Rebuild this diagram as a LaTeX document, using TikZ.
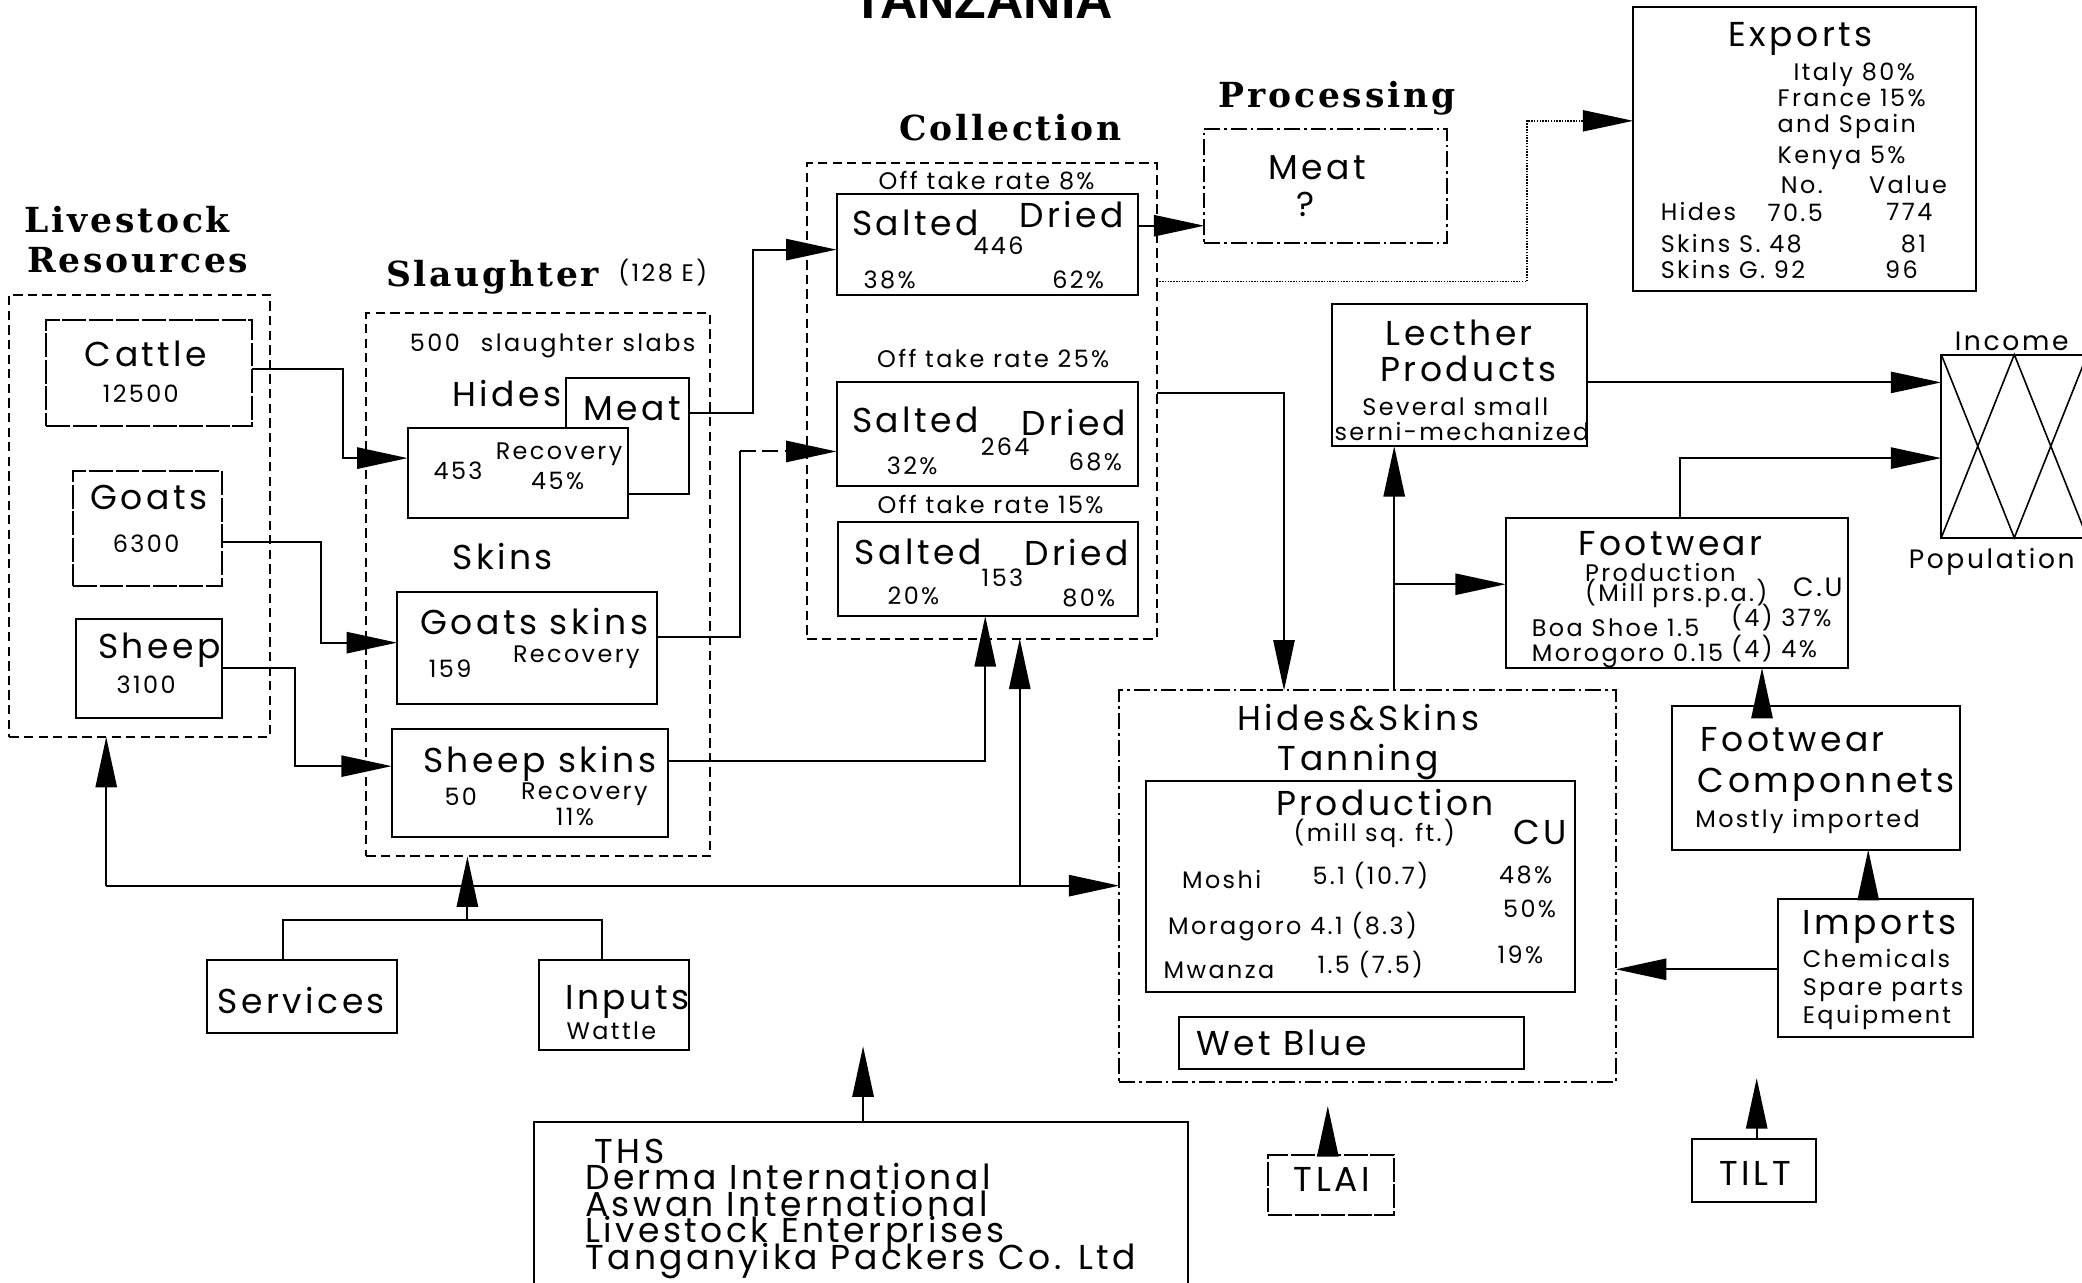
\documentclass[tikz,border=0pt]{standalone}
\usepackage{fontspec}
\usetikzlibrary{arrows.meta}
\newfontfamily\plotfont{Poppins}[LetterSpace=10]
\newfontfamily\titlefont{DejaVu Serif}[LetterSpace=8]
\newfontfamily\headfont{Liberation Sans}

% box given by its top-left and bottom-right corners
\newcommand\mkbox[6]{\node[#6, minimum width={(#4-#2)*1pt}, minimum height={(#5-#3)*1pt}, anchor=north west] (#1) at (#2,#3) {};}

\begin{document}
\begin{tikzpicture}[x=1pt,y=-1pt,line width=1.5pt,
  bx/.style={draw, inner sep=0pt, outer sep=0pt, fill=white},
  dbx/.style={bx, dash pattern=on 7pt off 4pt},
  ddbx/.style={bx, dash pattern=on 12pt off 3pt on 2pt off 3pt},
  lbx/.style={bx, dash pattern=on 18pt off 2pt},
  big/.style={font=\plotfont\fontsize{26}{26}\selectfont, inner sep=0pt, anchor=base},
  mid/.style={font=\plotfont\fontsize{20}{20}\selectfont, inner sep=0pt, anchor=base},
  sml/.style={font=\plotfont\fontsize{18}{18}\selectfont, inner sep=0pt, anchor=base},
  ttl/.style={font=\titlefont\bfseries\fontsize{26}{26}\selectfont, inner sep=0pt, anchor=base},
  arr/.style={-{Triangle[length=38pt,width=16pt]}},
]
\useasboundingbox (0,0) rectangle (1568,966);

% ---------- titles ----------
\node[font=\headfont\bfseries\fontsize{39}{39}\selectfont, inner sep=0pt, anchor=base] (title) at (740,14) {TANZANIA};
\node[ttl, anchor=base west] (tliv) at (18,175) {Livestock};
\node[ttl, anchor=base west] (tres) at (20,205) {Resources};
\node[ttl, anchor=base west] (tsla) at (290,216) {Slaughter};
\node[sml, anchor=base west] (tsla2) at (465,212) {(128 E)};
\node[ttl] (tcol) at (761,106) {Collection};
\node[ttl] (tpro) at (1007,81) {Processing};

% ---------- livestock ----------
\mkbox{livestock}{7}{222}{203}{555}{dbx}
\mkbox{cattle}{35}{241}{190}{321}{lbx}
\mkbox{goats}{55}{355}{167}{441}{lbx}
\mkbox{sheep}{57}{466}{167}{541}{bx}
\node[big] (lcat) at (110,276) {Cattle};
\node[sml] (ncat) at (106,303) {12500};
\node[big] (lgoa) at (112,384) {Goats};
\node[sml] (ngoa) at (110,416) {6300};
\node[big] (lshe) at (120,496) {Sheep};
\node[sml] (nshe) at (110,522) {3100};

% ---------- slaughter ----------
\mkbox{slaughter}{276}{236}{535}{645}{dbx}
\node[sml, anchor=base west] (slabs) at (308,265) {500\hspace{16pt}slaughter slabs};
\node[big, anchor=base west] (lhid) at (340,306) {Hides};
\mkbox{meatS}{426}{285}{519}{372}{bx}
\node[big] (lmeat) at (476,317) {Meat};
\mkbox{hides}{307}{322}{473}{390}{bx}
\node[sml] (nhid) at (345,361) {453};
\node[sml] (rhid) at (421,346) {Recovery};
\node[sml] (phid) at (420,369) {45\%};
\node[big, anchor=base west] (lski) at (340,429) {Skins};
\mkbox{gskins}{299}{446}{495}{530}{bx}
\node[big, anchor=base west] (lgsk) at (316,478) {Goats skins};
\node[sml] (rgsk) at (434,499) {Recovery};
\node[sml] (ngsk) at (339,510) {159};
\mkbox{sskins}{295}{549}{503}{630}{bx}
\node[big, anchor=base west] (lssk) at (318,582) {Sheep skins};
\node[sml] (nssk) at (347,607) {50};
\node[sml] (rssk) at (440,602) {Recovery};
\node[sml] (pssk) at (433,622) {11\%};

% ---------- collection ----------
\mkbox{collection}{608}{123}{871}{481}{dbx}
\node[sml] (off1) at (743,143) {Off take rate 8\%};
\mkbox{c1}{630}{146}{857}{222}{bx}
\node[big, anchor=base west] (s1) at (641,177) {Salted};
\node[big, anchor=base east] (d1) at (847,171) {Dried};
\node[sml] (n1) at (752,192) {446};
\node[sml] (p1a) at (670,217) {38\%};
\node[sml] (p1b) at (812,217) {62\%};
\node[sml] (off2) at (748,277) {Off take rate 25\%};
\mkbox{c2}{630}{288}{857}{366}{bx}
\node[big, anchor=base west] (s2) at (641,326) {Salted};
\node[big, anchor=base east] (d2) at (849,328) {Dried};
\node[sml] (n2) at (757,343) {264};
\node[sml] (p2a) at (687,357) {32\%};
\node[sml] (p2b) at (825,354) {68\%};
\node[sml] (off3) at (746,387) {Off take rate 15\%};
\mkbox{c3}{631}{393}{857}{464}{bx}
\node[big, anchor=base west] (s3) at (643,425) {Salted};
\node[big, anchor=base east] (d3) at (851,426) {Dried};
\node[sml] (n3) at (755,442) {153};
\node[sml] (p3a) at (688,455) {20\%};
\node[sml] (p3b) at (820,457) {80\%};

% ---------- processing ----------
\mkbox{meatP}{907}{97}{1090}{183}{ddbx}
\node[big] (lmp) at (992,135) {Meat};
\node[big] (qmp) at (983,163) {?};

% ---------- exports ----------
\mkbox{exports}{1230}{5}{1488}{219}{bx}
\node[big] (lexp) at (1356,35) {Exports};
\node[sml, anchor=base west] (e1) at (1350,61) {Italy 80\%};
\node[sml, anchor=base west] (e2) at (1338,80) {France 15\%};
\node[sml, anchor=base west] (e3) at (1338,100) {and Spain};
\node[sml, anchor=base west] (e4) at (1338,123) {Kenya 5\%};
\node[sml] (eno) at (1357,146) {No.};
\node[sml] (eval) at (1437,146) {Value};
\node[sml, anchor=base west] (eh) at (1250,166) {Hides};
\node[sml] (ehn) at (1352,167) {70.5};
\node[sml] (ehv) at (1438,166) {774};
\node[sml, anchor=base west] (es) at (1250,190) {Skins S. 48};
\node[sml] (esv) at (1441,190) {81};
\node[sml, anchor=base west] (eg) at (1250,210) {Skins G. 92};
\node[sml] (egv) at (1432,210) {96};

% ---------- leather products ----------
\mkbox{leather}{1003}{229}{1195}{336}{bx}
\node[big] (lle1) at (1099,260) {Lecther};
\node[big] (lle2) at (1106,287) {Products};
\node[sml] (lle3) at (1096,313) {Several small};
\node[sml] (lle4) at (1101,332) {serni-mechanized};

% ---------- income / population ----------
\mkbox{income}{1462}{267}{1572}{405}{bx}
\draw[line width=1.2pt] (income.north west) -- (income.south) -- (income.north east)
      (income.south west) -- (income.north) -- (income.south east);
\node[mid] (linc) at (1515,264) {Income};
\node[mid] (lpop) at (1500,428) {Population};

% ---------- footwear ----------
\mkbox{footwear}{1134}{390}{1392}{503}{bx}
\node[big] (lfw) at (1258,418) {Footwear};
\node[sml, anchor=base west] (fw1) at (1193,438) {Production};
\node[sml, anchor=base west] (fw2) at (1193,453) {(Mill prs.p.a.)};
\node[mid] (fw3) at (1369,449) {C.U};
\node[sml, anchor=base west] (fw4) at (1153,479) {Boa Shoe 1.5};
\node[sml, anchor=base west] (fw5) at (1303,472) {(4) 37\%};
\node[sml, anchor=base west] (fw6) at (1153,498) {Morogoro 0.15};
\node[sml, anchor=base west] (fw7) at (1303,495) {(4) 4\%};

\mkbox{compon}{1259}{532}{1476}{640}{bx}
\node[big, anchor=base west] (lco1) at (1280,566) {Footwear};
\node[big, anchor=base west] (lco2) at (1278,597) {Componnets};
\node[sml, anchor=base west] (lco3) at (1276,623) {Mostly imported};

\mkbox{imports}{1339}{677}{1486}{781}{bx}
\node[big, anchor=base west] (lim) at (1357,704) {Imports};
\node[sml, anchor=base west] (im1) at (1357,729) {Chemicals};
\node[sml, anchor=base west] (im2) at (1357,750) {Spare parts};
\node[sml, anchor=base west] (im3) at (1357,771) {Equipment};

\mkbox{tilt}{1274}{858}{1368}{905}{bx}
\node[big] (ltilt) at (1322,893) {TILT};
\mkbox{tlai}{955}{870}{1050}{915}{lbx}
\node[big] (ltlai) at (1003,897) {TLAI};

% ---------- tanning ----------
\mkbox{tanning}{843}{520}{1217}{815}{ddbx}
\node[big] (lta1) at (1023,550) {Hides\&Skins};
\node[big] (lta2) at (1023,580) {Tanning};
\mkbox{prod}{863}{588}{1186}{747}{bx}
\node[big] (lpr) at (1043,614) {Production};
\node[sml] (lpr2) at (1035,634) {(mill sq. ft.)};
\node[big] (lcu) at (1160,636) {CU};
\node[sml] (tm1) at (920,669) {Moshi};
\node[sml] (tm2) at (1032,666) {5.1 (10.7)};
\node[sml] (tm3) at (1149,665) {48\%};
\node[sml] (tm4) at (1152,691) {50\%};
\node[sml, anchor=base west] (tm5) at (879,704) {Moragoro 4.1 (8.3)};
\node[sml] (tm6) at (918,737) {Mwanza};
\node[sml] (tm7) at (1032,733) {1.5 (7.5)};
\node[sml] (tm8) at (1145,726) {19\%};
\mkbox{wetblue}{888}{766}{1148}{805}{bx}
\node[big, anchor=base west] (lwb) at (900,795) {Wet Blue};

% ---------- services, inputs, companies ----------
\mkbox{services}{156}{723}{299}{778}{bx}
\node[big] (lser) at (227,763) {Services};
\mkbox{inputs}{406}{723}{519}{791}{bx}
\node[big, anchor=base west] (linp) at (425,760) {Inputs};
\node[sml, anchor=base west] (lwat) at (426,783) {Wattle};
\mkbox{company}{402}{845}{895}{980}{bx}
\node[big, anchor=base west] (co1) at (447,876) {THS};
\node[big, anchor=base west] (co2) at (440,896) {Derma International};
\node[big, anchor=base west] (co3) at (440,916) {Aswan International};
\node[big, anchor=base west] (co4) at (440,936) {Livestock Enterprises};
\node[big, anchor=base west] (co5) at (440,956) {Tanganyika Packers Co. Ltd};

% ---------- connectors ----------
\draw[arr] (cattle.east |- 0,278) -- (258,278) |- (hides.west |- 0,345);
\draw[arr] (goats.east |- 0,408) -- (242,408) |- (gskins.west |- 0,484);
\draw[arr] (sheep.east |- 0,503) -- (222,503) |- (sskins.west |- 0,577);
\draw[arr] (meatS.east |- 0,311) -- (567,311) |- (c1.west |- 0,188);
\coordinate (gk) at (557,340);
\draw (gskins.east |- 0,480) -| (gk);
\draw[arr, dash pattern=on 12pt off 5pt] (gk) -- (c2.west |- gk);
\draw[arr] (sskins.east |- 0,573) -| (c3.south -| 742,0);
\draw[arr] (c1.east |- 0,170) -- (meatP.west |- 0,170);
\draw[arr, densely dotted, line width=1.1pt] (collection.east |- 0,212) -- (1150,212) |- (exports.west |- 0,91);
\draw[arr] (collection.east |- 0,296) -| (tanning.north -| 967,0);
\draw[arr] (tanning.north -| 1050,0) -- (leather.south -| 1050,0);
\coordinate (br) at (1050,440);
\draw[arr] (br) -- (footwear.west |- br);
\draw[arr] (leather.east |- 0,288) -- (income.west |- 0,288);
\draw[arr] (footwear.north -| 1265,0) |- (income.west |- 0,345);
\draw[arr] (compon.north -| 1327,0) -- (footwear.south -| 1327,0);
\draw[arr] (imports.north -| 1407,0) -- (compon.south -| 1407,0);
\draw[arr] (imports.west |- 0,730) -- (tanning.east |- 0,730);
\coordinate (tiltup) at (1323,812);
\draw[arr] (tilt.north -| tiltup) -- (tiltup);
\coordinate (tlaiup) at (1000,833);
\draw[arr] (tlai.north -| tlaiup) -- (tlaiup);
\coordinate (compup) at (650,788);
\draw[arr] (company.north -| compup) -- (compup);
\coordinate (sj) at (352,693);
\draw (services.north -| 213,0) |- (sj) -| (inputs.north -| 453,0);
\draw[arr] (sj) -- (slaughter.south -| sj);
\coordinate (lj) at (80,667);
\coordinate (cj) at (768,667);
\draw[arr] (lj) -- (tanning.west |- lj);
\draw[arr] (lj) -- (livestock.south -| lj);
\draw[arr] (cj) -- (collection.south -| cj);
\end{tikzpicture}
\end{document}
